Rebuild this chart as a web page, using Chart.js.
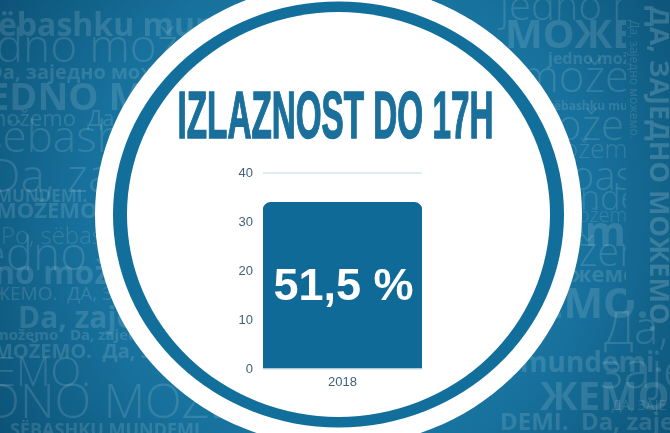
<!DOCTYPE html>
<html>
<head>
<meta charset="utf-8">
<script src="https://cdn.jsdelivr.net/npm/chart.js@4/dist/chart.umd.min.js"></script>
<style>
  html, body { margin: 0; padding: 0; width: 670px; height: 433px; overflow: hidden; background: #15678f; }
  #wrap { position: relative; width: 670px; height: 433px; }
</style>
</head>
<body>
<div id="wrap"><canvas id="c"></canvas></div>
<script>
// ---- data ----
const chartTitle = 'IZLAZNOST DO 17H';
const categories = ['2018'];
const turnoutValues = [34];
const barLabels = ['51,5 %'];
const yTickValues = [0, 10, 20, 30, 40];

// ---- decorative background phrases ----
const bgRowsLeft = [
  ['sëbashku mundemi.', -18, 36, 700, 32],
  ['jedno možemo', -40, 62, 300, 46],
  ['Da, заједно можемо', -12, 79, 700, 20],
  ['EDNO MOŽEMO', -12, 110, 700, 38],
  ['možemo  Да, заједно', -14, 126, 400, 22],
  ['sëbashku mundemi', -18, 152, 300, 44],
  ['Da, zajedno', -12, 192, 300, 46],
  ['MUNDEMI.   Да, заједно', -4, 202, 700, 17],
  ['MOŽEMO.', -4, 218, 700, 22],
  ['„Po, sëbashku', -8, 244, 300, 24],
  ['jedno možemo', -30, 270, 300, 46],
  ['no možemo', -6, 284, 700, 32],
  ['ЖEMO.  ДА, ЗАЈЕДНО', -6, 300, 400, 19],
  ['Da, zajedno', 18, 328, 700, 30],
  ['možemo   Da, zajedno', -6, 340, 700, 15],
  ['MOŽEMO.  Да, заједно', -6, 358, 700, 20],
  ['EMO.', -6, 386, 300, 40],
  ['DNO MOŽEMO', -14, 418, 300, 48],
  ['SËBASHKU MUNDEMI.', 10, 436, 700, 18]
];
const bgRowsRight = [
  ['jedno možemo', 500, 20, 300, 40],
  ['МОЖЕМО.', 505, 48, 700, 40],
  ['jedno možemo', 548, 64, 700, 16],
  ['možemo', 520, 92, 300, 44],
  ['sëbashku mundemi', 548, 110, 700, 12],
  ['možemo', 520, 140, 300, 42],
  ['možemo', 540, 158, 300, 26],
  ['sëbashku', 530, 190, 300, 40],
  ['mundemi.', 530, 210, 300, 34],
  ['možemo', 560, 222, 300, 20],
  ['emi.', 560, 246, 700, 42],
  ['možemo', 520, 266, 300, 40],
  ['можемо.', 540, 282, 700, 22],
  ['ЕМО.', 540, 318, 700, 42],
  ['mundemi.', 520, 372, 700, 28],
  ['ЖЕМО', 540, 410, 700, 40],
  ['DEMI.  Da, zajedno', 500, 430, 700, 24]
];
const bgRowsFar = [
  ['Да,', 604, 344, 300, 46],
  ['заје', 600, 388, 300, 52],
  ['ДА, ЗАЈЕ', 612, 410, 400, 14]
];

const backgroundPlugin = {
  id: 'bg',
  beforeDraw(chart) {
    const ctx = chart.ctx;
    const W = chart.width, H = chart.height;
    ctx.save();
    const g = ctx.createRadialGradient(340, 215, 60, 340, 215, 420);
    g.addColorStop(0, '#2185b2');
    g.addColorStop(0.55, '#17719c');
    g.addColorStop(1, '#0b4f72');
    ctx.fillStyle = g;
    ctx.fillRect(0, 0, W, H);
    ctx.fillStyle = 'rgba(255,255,255,0.13)';
    ctx.textBaseline = 'alphabetic';
    ctx.textAlign = 'left';
    const drawRows = rows => rows.forEach(r => {
      ctx.font = r[3] + ' ' + r[4] + 'px "Open Sans", "Noto Sans", sans-serif';
      ctx.fillText(r[0], r[1], r[2]);
    });
    drawRows(bgRowsLeft);
    ctx.save();
    ctx.beginPath(); ctx.rect(0, 0, 626, 300); ctx.rect(0, 300, 670, 133); ctx.clip();
    drawRows(bgRowsRight);
    ctx.restore();
    drawRows(bgRowsFar);
    // vertical phrases on the right
    ctx.save();
    ctx.translate(650, 6);
    ctx.rotate(Math.PI / 2);
    ctx.font = '700 27px "Open Sans", "Noto Sans", sans-serif';
    ctx.fillStyle = 'rgba(255,255,255,0.17)';
    ctx.fillText('ДА, ЗАЈЕДНО МОЖЕМО.', 0, 0);
    ctx.restore();
    ctx.save();
    ctx.translate(630, 20);
    ctx.rotate(Math.PI / 2);
    ctx.font = '400 12px "Open Sans", "Noto Sans", sans-serif';
    ctx.fillText('Да, заједно можемо.', 0, 0);
    ctx.restore();
    // rings
    const cx = 338.5, cy = 214.5;
    ctx.beginPath(); ctx.ellipse(cx, cy, 243.5, 232, 0, 0, Math.PI * 2);
    ctx.fillStyle = '#ffffff'; ctx.fill();
    ctx.beginPath(); ctx.ellipse(cx, cy, 225.5, 213, 0, 0, Math.PI * 2);
    ctx.fillStyle = '#126f9c'; ctx.fill();
    ctx.beginPath(); ctx.ellipse(cx, cy, 211.5, 202.5, 0, 0, Math.PI * 2);
    ctx.fillStyle = '#ffffff'; ctx.fill();
    // title
    ctx.font = '700 66px "Liberation Sans Narrow", "Liberation Sans", sans-serif';
    const w = ctx.measureText(chartTitle).width;
    const targetW = 316;
    ctx.translate(335.5 - targetW / 2, 138);
    ctx.scale(targetW / w, 1);
    ctx.fillStyle = '#1a6f9b';
    ctx.strokeStyle = '#1a6f9b';
    ctx.lineWidth = 1.5;
    ctx.textAlign = 'left';
    ctx.fillText(chartTitle, 0, 0);
    ctx.strokeText(chartTitle, 0, 0);
    ctx.restore();
  }
};

const barLabelPlugin = {
  id: 'barLabel',
  afterDatasetsDraw(chart) {
    const ctx = chart.ctx;
    const meta = chart.getDatasetMeta(0);
    ctx.save();
    ctx.fillStyle = '#ffffff';
    ctx.font = '700 45px "Liberation Sans", Arial, sans-serif';
    ctx.textAlign = 'center';
    ctx.textBaseline = 'middle';
    meta.data.forEach((bar, i) => {
      const p = bar.getProps(['x', 'y', 'base'], true);
      ctx.fillText(barLabels[i], p.x + 1, (p.y + p.base) / 2 + 2);
    });
    ctx.restore();
  }
};

new Chart(document.getElementById('c'), {
  type: 'bar',
  data: {
    labels: categories,
    datasets: [{
      data: turnoutValues,
      backgroundColor: '#0f6a97',
      borderRadius: { topLeft: 8, topRight: 8, bottomLeft: 0, bottomRight: 0 },
      borderSkipped: 'bottom',
      barPercentage: 1,
      categoryPercentage: 1
    }]
  },
  options: {
    responsive: true,
    maintainAspectRatio: false,
    animation: false,
    layout: { padding: { left: 216, right: 248, top: 173, bottom: 40 } },
    plugins: { legend: { display: false }, tooltip: { enabled: false }, title: { display: false } },
    scales: {
      x: {
        grid: { display: false, drawTicks: false },
        border: { display: false },
        ticks: { color: '#3f6176', font: { family: '"Liberation Sans", Arial, sans-serif', size: 13 }, padding: 6 },
        afterFit(s) { s.height = 24; }
      },
      y: {
        min: 0, max: 40,
        afterBuildTicks(s) { s.ticks = yTickValues.map(v => ({ value: v })); },
        grid: { color: '#e2ebf0', lineWidth: 2, drawTicks: false },
        border: { display: false },
        ticks: { color: '#3f6176', font: { family: '"Liberation Sans", Arial, sans-serif', size: 13 }, padding: 10 },
        afterFit(s) { s.width = 47; }
      }
    }
  },
  plugins: [backgroundPlugin, barLabelPlugin]
});
</script>
</body>
</html>
